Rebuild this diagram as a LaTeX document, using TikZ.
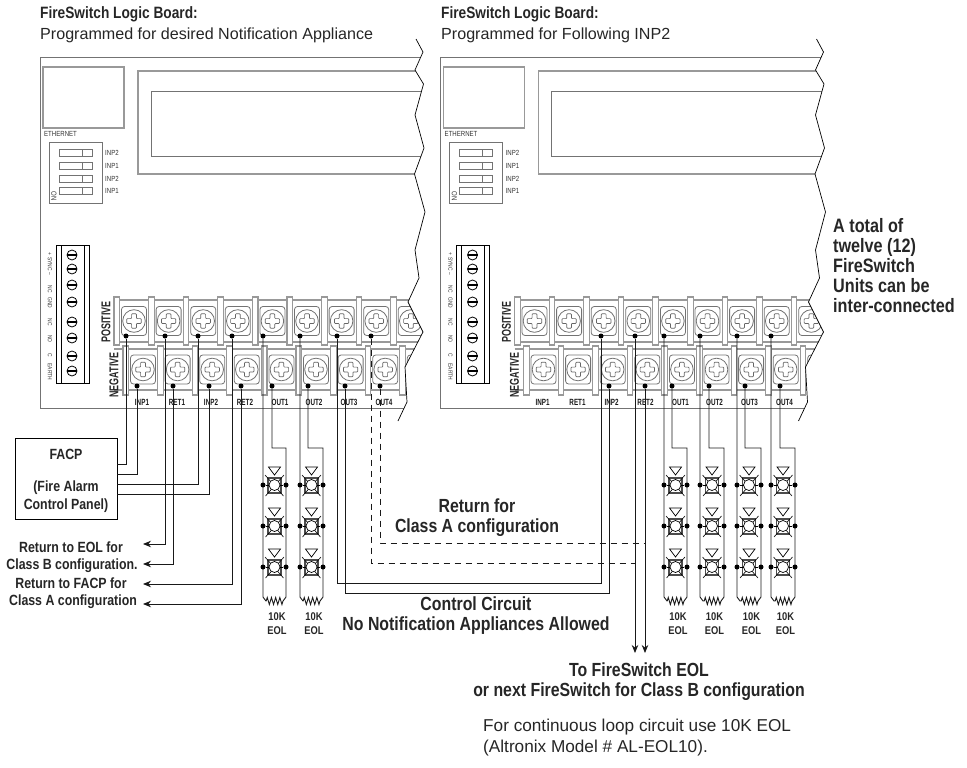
\documentclass[tikz,border=0pt]{standalone}
\usepackage{fontspec}
\setmainfont{Liberation Sans}
\newfontfamily\headfont[FakeStretch=.835]{Liberation Sans}
\newfontfamily\narrowfont[FakeStretch=.7]{Liberation Sans}
\newfontfamily\microfont[FakeStretch=.82]{Liberation Sans}
\usetikzlibrary{arrows.meta,calc,decorations.pathmorphing}
\tikzset{
  boardline/.style={draw=black!55,line width=.8pt},
  boardthick/.style={draw=black!40,line width=1.1pt},
  wire/.style={draw=black!90,line width=.9pt},
  dashwire/.style={wire,dash pattern=on 6pt off 5pt},
  arrowwire/.style={wire,-{Stealth[length=8pt,width=6.5pt]}},
  wiredot/.style={circle,fill=black,inner sep=0pt,minimum size=5pt},
  headtext/.style={inner sep=0pt,align=center,text=black!85,font=\headfont\bfseries\fontsize{19}{20}\selectfont},
  headleft/.style={headtext,anchor=west,align=left,font=\headfont\bfseries\fontsize{16.4}{18}\selectfont},
  plaintext/.style={inner sep=0pt,anchor=west,align=left,text=black!85,font=\fontsize{16.1}{21}\selectfont},
  smalltext/.style={headtext,font=\headfont\bfseries\fontsize{14.8}{18}\selectfont},
  microtext/.style={inner sep=0pt,text=black!80,font=\microfont\fontsize{7.4}{8}\selectfont},
  termtext/.style={inner sep=0pt,text=black!90,font=\narrowfont\bfseries\fontsize{9}{9}\selectfont},
  polarity/.style={inner sep=0pt,rotate=90,text=black!85,font=\narrowfont\bfseries\fontsize{12.8}{13}\selectfont},
  pics/horn/.style={code={
    \draw[line width=.7pt,fill=white] (-6,-18) -- (6,-18) -- (0,-10) -- cycle;
    \draw[line width=1.1pt,draw=black!70] (-6.5,-7) rectangle (6.5,8);
    \draw[line width=.6pt] (-9.5,-10) -- (9,11) (9.5,-10) -- (-9,11);
    \draw[line width=.7pt,fill=white] (0,0) circle (5.5);
  }},
  pics/screwhead/.style={code={
    \draw[boardline,rounded corners=3pt] (-12.5,-14.5) rectangle (12.5,14.5);
    \draw[boardline,fill=white] (0,0) circle (11.3);
    \draw[draw=black!60,line width=.7pt,rounded corners=.8pt] (-2.4,-7.2) -- (2.4,-7.2) -- (2.4,-2.4) -- (7.2,-2.4) -- (7.2,2.4) -- (2.4,2.4) -- (2.4,7.2) -- (-2.4,7.2) -- (-2.4,2.4) -- (-7.2,2.4) -- (-7.2,-2.4) -- (-2.4,-2.4) -- cycle;
  }}
}
\newcommand{\jagline}{(416,39) -- (423,52) -- (415,70) -- (423.5,84) -- (415,115) -- (424,148) -- (414.5,174) -- (425,212) -- (415,250) -- (419,278) -- (408,302) -- (423,332) -- (405,367) -- (407,402) -- (398,421)}
\newcommand{\terminalrow}[6]{%
  \draw[boardthick] (114,#2) -- (430,#2) (114,#3) -- (430,#3);
  \foreach \k in {0,...,8} {
    \draw[boardthick,fill=white] ({#4+34.6*\k},#5) rectangle ++(5.6,#6);
    \pic at ({#1+34.6*\k},{(#2+#3)/2}) {screwhead};
  }
}
\newcommand{\fireboard}[1]{%
  \begin{scope}
    \clip (30,30) -- (416,30) -- \jagline -- (398,430) -- (30,430) -- cycle;
    \draw[boardline] (440,57) -- (40,57) -- (40,408) -- (440,408);
    \draw[boardthick] (43,67) rectangle (124,128);
    \draw[boardthick] (440,71) -- (138,71) -- (138,174) -- (440,174);
    \draw[boardline] (440,91) -- (151,91) -- (151,156) -- (440,156);
    \terminalrow{134}{300}{342}{114}{297}{48}
    \terminalrow{143}{349}{390}{123}{346}{49}
  \end{scope}
  \draw[line width=.7pt] \jagline;
  \node[microtext,anchor=west] (#1-eth) at (44,134) {ETHERNET};
  \draw[boardline] (49,142) rectangle (102,203);
  \foreach \y/\t in {149/INP2,162/INP1,175/INP2,187/INP1} {
    \draw[boardline] (59,\y) rectangle (92,\y+7.5) (82,\y) -- (82,\y+7.5);
    \node[microtext,anchor=west] at (105,\y+4) {\t};
  }
  \node[microtext,rotate=-90] (#1-on) at (54,196) {ON};
  \draw[line width=.8pt] (56,245) rectangle (89,383) (61,245) -- (61,383) (84,245) -- (84,383);
  \foreach \y in {255,269,285,302,322,338,356,371} {
    \draw[line width=.8pt] (72,\y) circle (5);
    \draw[line width=1.6pt] (67,\y) -- (77,\y);
  }
  \foreach \y/\t in {264/{+\ SYNC\ –},289/NC,303/GND,322/NC,339/NO,355/C,372/EARTH}
    \node[microtext,rotate=-90,font=\microfont\fontsize{6}{7}\selectfont] at (50,\y) {\t};
  \node[polarity] (#1-pos) at (106,322) {POSITIVE};
  \node[polarity] (#1-neg) at (114,375) {NEGATIVE};
  \foreach \x/\t in {142/INP1,177/RET1,211/INP2,245/RET2,280/OUT1,314/OUT2,349/OUT3,384/OUT4}
    \node[termtext] at (\x,402) {\t};
}
\newcommand{\hornloop}[3]{%
  \draw[wire] (#2) |- (#3,448) -- (#3,597) -- (#3-3,601)
    decorate[decoration={zigzag,segment length=4.2pt,amplitude=3.5pt}] {-- ($(#1 |- 0,601)+(3,0)$)}
    -- (#1 |- 0,597) -- (#1);
  \foreach \y in {485,526,567} {
    \pic at ($(#1 |- 0,\y)!.5!(#3,\y)$) {horn};
    \node[wiredot] (#1-l\y) at (#1 |- 0,\y) {};
    \node[wiredot] (#1-r\y) at (#3,\y) {};
    \draw[line width=.7pt] (#1-l\y) -- ($(#1 |- 0,\y)!.5!(#3,\y)+(-5.5,0)$) ($(#1 |- 0,\y)!.5!(#3,\y)+(5.5,0)$) -- (#1-r\y);
  }
  \node[headtext,font=\headfont\bfseries\fontsize{11.2}{14}\selectfont] (#1-eol) at ($(#1 |- 0,624)!.5!(#3,624)+(2.5,0)$) {10K\\EOL};
}
\begin{document}
\begin{tikzpicture}[x=1pt,y=-1pt]
\useasboundingbox (0,0) rectangle (967,768);
\node[headleft] (titleA) at (40,14) {FireSwitch Logic Board:};
\node[plaintext] (subA) at (40,35) {Programmed for desired Notification Appliance};
\node[headleft] (titleB) at (441,14) {FireSwitch Logic Board:};
\node[plaintext] (subB) at (441,35) {Programmed for Following INP2};
\fireboard{a}
\begin{scope}[shift={(400.5,0)}]
\fireboard{b}
\end{scope}
\foreach \x [count=\i] in {126,165,198,232,263,300,337,371}
  \node[wiredot] (a-p\i) at (\x,336) {};
\foreach \x [count=\i] in {137,173,209,241,272,308,345,380}
  \node[wiredot] (a-n\i) at (\x,386) {};
\foreach \x [count=\i from 3] in {601,635,664,700,737,771}
  \node[wiredot] (b-p\i) at (\x,336) {};
\foreach \x [count=\i from 3] in {609,645,672,709,745,780}
  \node[wiredot] (b-n\i) at (\x,386) {};
\node[draw,line width=.9pt,minimum width=102pt,minimum height=81pt] (facp) at (66,478.5) {};
\node[smalltext] (facptitle) at (66,454) {FACP};
\node[smalltext] (facpname) at (66,496.5) {(Fire Alarm\\Control Panel)};
\coordinate (facpA) at (117,464);
\coordinate (facpB) at (117,474);
\coordinate (facpC) at (117,484);
\coordinate (facpD) at (117,494);
\draw[wire] (a-p1) |- (facpA);
\draw[wire] (a-n1) |- (facpB);
\draw[wire] (a-p3) |- (facpC);
\draw[wire] (a-n3) |- (facpD);
\coordinate (retA) at (143,544);
\coordinate (retB) at (143,564);
\coordinate (retC) at (143,584);
\coordinate (retD) at (143,604);
\draw[arrowwire] (a-p2) |- (retA);
\draw[arrowwire] (a-n2) |- (retB);
\draw[arrowwire] (a-p4) |- (retC);
\draw[arrowwire] (a-n4) |- (retD);
\node[smalltext] (retAtext) at (71,547.5) {Return to EOL for};
\node[smalltext] (retBtext) at (72,565.5) {Class B configuration.};
\node[smalltext] (retCtext) at (71,583.5) {Return to FACP for};
\node[smalltext] (retDtext) at (73,601.5) {Class A configuration};
\hornloop{a-p5}{a-n5}{286}
\hornloop{a-p6}{a-n6}{323}
\hornloop{b-p5}{b-n5}{687}
\hornloop{b-p6}{b-n6}{724}
\hornloop{b-p7}{b-n7}{761}
\hornloop{b-p8}{b-n8}{795}
\coordinate (ctlA) at (601,583);
\coordinate (ctlB) at (609,593);
\draw[wire] (a-p7) |- (ctlA) -- (b-p3);
\draw[wire] (a-n7) |- (ctlB) -- (b-n3);
\coordinate (toeolA) at (635,653);
\coordinate (toeolB) at (645,653);
\draw[arrowwire] (b-p4) -- (toeolA);
\draw[arrowwire] (b-n4) -- (toeolB);
\draw[dashwire] (a-p8) |- (b-p4 |- 0,563);
\draw[dashwire] (a-n8) |- (b-n4 |- 0,543);
\node[headtext] (classA) at (477,518) {Return for\\Class A configuration};
\node[headtext] (control) at (476,616) {Control Circuit\\No Notification Appliances Allowed};
\node[headtext] (toeol) at (639,682) {To FireSwitch EOL\\or next FireSwitch for Class B configuration};
\node[headleft,font=\headfont\bfseries\fontsize{19.4}{20}\selectfont] (total) at (833,266) {A total of\\twelve (12)\\FireSwitch\\Units can be\\inter-connected};
\node[plaintext,font=\fontsize{17.2}{21}\selectfont] (note) at (483,738) {For continuous loop circuit use 10K EOL\\(Altronix Model \# AL-EOL10).};
\end{tikzpicture}
\end{document}
